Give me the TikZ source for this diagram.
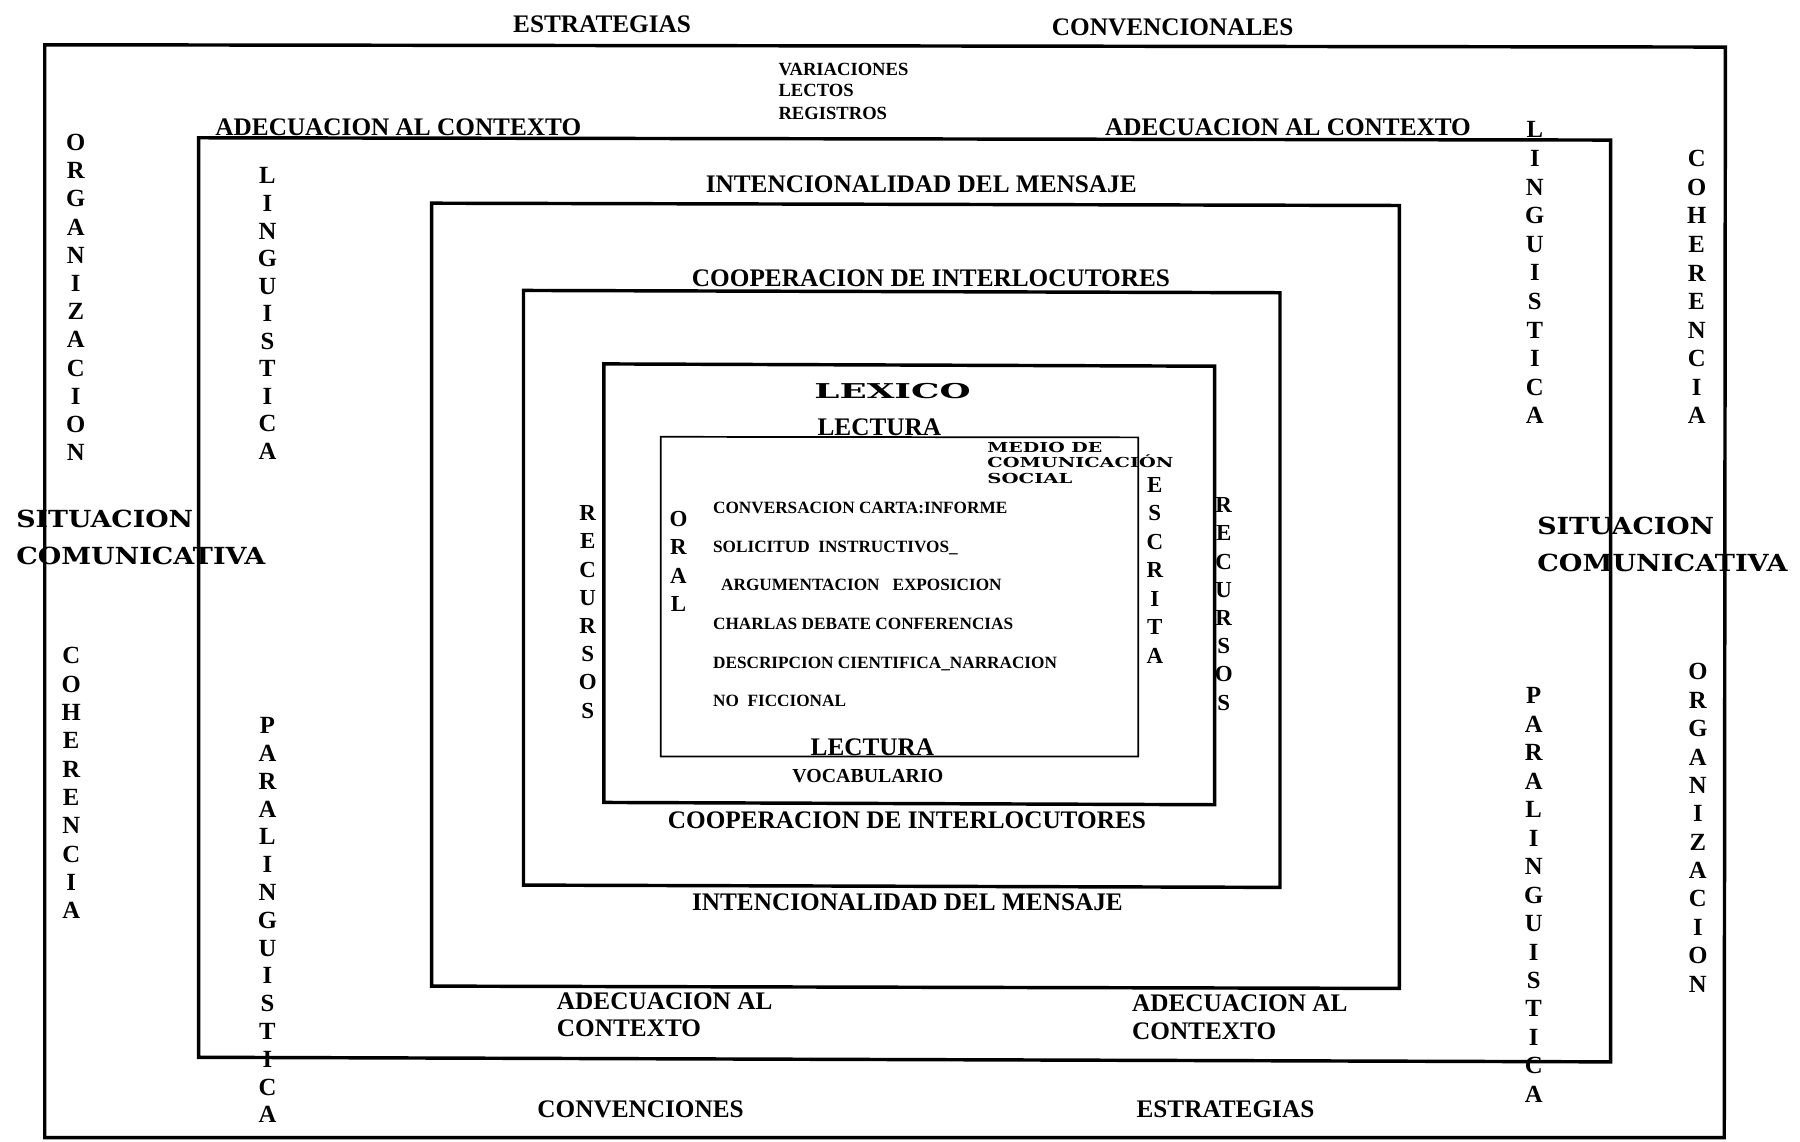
\documentclass[tikz,border=0pt]{standalone}
\usepackage{fontspec}
\usepackage{graphicx}
\setmainfont{Liberation Serif}
\newfontfamily\wfont{DejaVu Serif}
\newcommand\vword[5]{%
  \foreach \l [count=\i] in {#5} {\node[lt] (#1\i) at (#2,{#3+(\i-1)*#4}) {\l};}}
\newcommand\vwordS[5]{%
  \foreach \l [count=\i] in {#5} {\node[lts] (#1\i) at (#2,{#3+(\i-1)*#4}) {\l};}}
\begin{document}
\begin{tikzpicture}[x=1pt,y=-1pt,
  hd/.style={font=\fontsize{22}{24}\selectfont\bfseries, inner sep=0pt, anchor=base},
  hdl/.style={hd, anchor=base west},
  sm/.style={font=\fontsize{16.2}{18}\selectfont\bfseries, inner sep=0pt, anchor=base west},
  ls/.style={font=\fontsize{15}{18}\selectfont\bfseries, inner sep=0pt, anchor=base west},
  lt/.style={font=\fontsize{21.5}{24}\selectfont\bfseries, inner sep=0pt, anchor=base},
  lts/.style={font=\fontsize{20}{24}\selectfont\bfseries, inner sep=0pt, anchor=base},
  wd/.style={font=\wfont\fontsize{17.8}{20}\selectfont\bfseries, inner sep=0pt, anchor=base},
  wds/.style={font=\wfont\fontsize{12}{14}\selectfont\bfseries, inner sep=0pt, anchor=base west},
  wdb/.style={font=\wfont\fontsize{20.5}{24}\selectfont\bfseries, inner sep=0pt, anchor=base west},
  box/.style={line width=3pt, line join=miter},
  thinbox/.style={line width=1.5pt}]
\useasboundingbox (0,0) rectangle (1568,994);
% rectangles
\draw[box] (39,39) -- (1503,41) -- (1502,991) -- (39,991) -- cycle;
\draw[box] (173,120) -- (1403,122) -- (1403,925) -- (173,921) -- cycle;
\draw[box] (376,177) -- (1219,179) -- (1219,861) -- (376,859) -- cycle;
\draw[box] (456,253) -- (1115,255) -- (1115,773) -- (456,771) -- cycle;
\draw[box] (526,317) -- (1058,319) -- (1058,701) -- (526,699) -- cycle;
\draw[thinbox] (575.5,380.5) -- (991.5,381) -- (991.5,659) -- (575.5,659) -- cycle;
% top texts
\node[hd] (estr1) at (524.5,28.5) {ESTRATEGIAS};
\node[hd] (conv1) at (1021.5,30.5) {CONVENCIONALES};
\node[sm] (var) at (678,65.4) {VARIACIONES};
\node[sm] (lectos) at (678,84.4) {LECTOS};
\node[sm] (regis) at (678,104.4) {REGISTROS};
\node[hd] (adec1) at (347,118) {ADECUACION AL CONTEXTO};
\node[hd] (adec2) at (1122,118) {ADECUACION AL CONTEXTO};
\node[hd] (int1) at (802.5,167.3) {INTENCIONALIDAD DEL MENSAJE};
\node[hd] (coop1) at (811,249.3) {COOPERACION DE INTERLOCUTORES};
\node[wd] (lex) at (777.5,347) {\resizebox{136pt}{\height}{LEXICO}};
\node[hd] (lect1) at (766,379.3) {LECTURA};
\node[wds] (medio1) at (860,394.4) {\resizebox{100pt}{\height}{MEDIO DE}};
\node[wds] (medio2) at (860,407.4) {\resizebox{162pt}{\height}{COMUNICACIÓN}};
\node[wds] (medio3) at (860,421.4) {\resizebox{74pt}{\height}{SOCIAL}};
% list
\node[ls] (l1) at (621,447) {CONVERSACION CARTA:INFORME};
\node[ls] (l2) at (621,481) {SOLICITUD\ \ INSTRUCTIVOS\_};
\node[ls] (l3) at (628,514) {ARGUMENTACION\ \ \ EXPOSICION};
\node[ls] (l4) at (621,548) {CHARLAS DEBATE CONFERENCIAS};
\node[ls] (l5) at (621,582) {DESCRIPCION CIENTIFICA\_NARRACION};
\node[ls] (l6) at (621,615) {NO\ \ FICCIONAL};
% bottom texts
\node[hd] (lect2) at (760,658.3) {LECTURA};
\node[font=\fontsize{17.3}{20}\selectfont\bfseries, inner sep=0pt, anchor=base] (voc) at (756,681.7) {VOCABULARIO};
\node[hd] (coop2) at (790,721.3) {COOPERACION DE INTERLOCUTORES};
\node[hd] (int2) at (790.5,793.3) {INTENCIONALIDAD DEL MENSAJE};
\node[hdl] (adec3a) at (485,879.3) {ADECUACION AL};
\node[hdl] (adec3b) at (485,903.3) {CONTEXTO};
\node[hdl] (adec4a) at (986,881.3) {ADECUACION AL};
\node[hdl] (adec4b) at (986,905.3) {CONTEXTO};
\node[hd] (convb) at (558,973.3) {CONVENCIONES};
\node[hd] (estrb) at (1067.5,973.3) {ESTRATEGIAS};
% situacion comunicativa
\node[wdb] (sit1) at (14,459.5) {\resizebox{154pt}{\height}{SITUACION}};
\node[wdb] (com1) at (14,491.5) {\resizebox{217pt}{\height}{COMUNICATIVA}};
\node[wdb] (sit2) at (1339,465.5) {\resizebox{154pt}{\height}{SITUACION}};
\node[wdb] (com2) at (1339,497.5) {\resizebox{218pt}{\height}{COMUNICATIVA}};
% vertical words
\vword{orgL}{66}{131.2}{24.55}{O,R,G,A,N,I,Z,A,C,I,O,N}
\vword{linL}{233}{160.2}{24}{L,I,N,G,U,I,S,T,I,C,A}
\vword{cohL}{62}{578.2}{24.67}{C,O,H,E,R,E,N,C,I,A}
\vword{parL}{233}{639.2}{24.21}{P,A,R,A,L,I,N,G,U,I,S,T,I,C,A}
\vword{linR}{1337}{120.2}{24.9}{L,I,N,G,U,I,S,T,I,C,A}
\vword{cohR}{1478}{145.2}{24.9}{C,O,H,E,R,E,N,C,I,A}
\vword{parR}{1336}{613.2}{24.79}{P,A,R,A,L,I,N,G,U,I,S,T,I,C,A}
\vword{orgR}{1479}{592.2}{24.73}{O,R,G,A,N,I,Z,A,C,I,O,N}
\vwordS{recL}{512}{453.6}{24.57}{R,E,C,U,R,S,O,S}
\vwordS{oral}{591}{458.6}{24.67}{O,R,A,L}
\vwordS{escr}{1006}{428.6}{24.83}{E,S,C,R,I,T,A}
\vwordS{recR}{1066}{446.6}{24.57}{R,E,C,U,R,S,O,S}
\end{tikzpicture}
\end{document}
